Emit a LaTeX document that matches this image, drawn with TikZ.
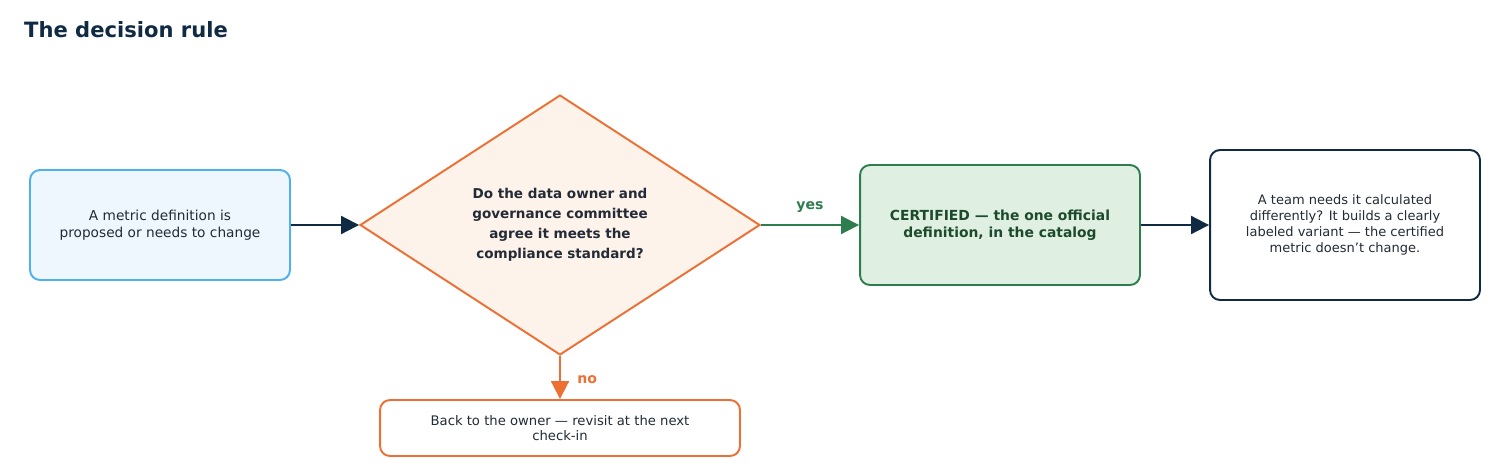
\documentclass[tikz,border=0pt]{standalone}
\usepackage{fontspec}
\setmainfont{DejaVu Sans}
\usetikzlibrary{shapes.geometric,arrows.meta}
\definecolor{navy}{HTML}{102A43}
\definecolor{bluestroke}{HTML}{4DB0F0}
\definecolor{bluefill}{HTML}{EEF6FE}
\definecolor{orng}{HTML}{EC6F33}
\definecolor{orngfill}{HTML}{FEF3EA}
\definecolor{grn}{HTML}{2E7D4F}
\definecolor{grnfill}{HTML}{DFF0E3}
\definecolor{grntext}{HTML}{1E4A2C}
\definecolor{txt}{HTML}{222B36}
\begin{document}
\begin{tikzpicture}[x=0.02cm,y=-0.02cm,
  box/.style={rounded corners=0.2cm,line width=1.1pt,align=center,text=txt,font=\fontsize{7.8}{9.6}\selectfont,inner sep=0pt},
  arr/.style={line width=1.1pt,-{Triangle[length=0.36cm,width=0.36cm]}},
  lab/.style={font=\bfseries\fontsize{8}{9}\selectfont}]
\useasboundingbox (0,0) rectangle (1500,470);
\node[anchor=west,text=navy,font=\bfseries\fontsize{12}{14}\selectfont] (title) at (18,30) {The decision rule};
\node[box,draw=bluestroke,fill=bluefill,minimum width=5.2cm,minimum height=2.2cm] (start) at (160,225) {A metric definition is\\proposed or needs to change};
\node[diamond,draw=orng,fill=orngfill,line width=1.1pt,minimum width=8cm,minimum height=5.2cm,inner sep=0pt,align=center,text=txt,font=\bfseries\fontsize{7.7}{11.3}\selectfont] (dec) at (560,225) {Do the data owner and\\governance committee\\agree it meets the\\compliance standard?};
\node[box,draw=grn,fill=grnfill,text=grntext,font=\bfseries\fontsize{7.9}{9.6}\selectfont,minimum width=5.6cm,minimum height=2.4cm] (cert) at (1000,225) {CERTIFIED — the one official\\definition, in the catalog};
\node[box,draw=navy,fill=white,minimum width=5.4cm,minimum height=3cm,font=\fontsize{7.4}{9}\selectfont] (var) at (1345,225) {A team needs it calculated\\differently? It builds a clearly\\labeled variant — the certified\\metric doesn't change.};
\node[box,draw=orng,fill=white,minimum width=7.2cm,minimum height=1.12cm,font=\fontsize{7.5}{9}\selectfont] (back) at (560,428) {Back to the owner — revisit at the next\\check-in};
\draw[arr,navy] (start) -- (dec.west);
\draw[arr,grn] (dec.east) -- node[lab,above=3pt,text=grn]{yes} (cert);
\draw[arr,navy] (cert) -- (var);
\draw[arr,orng] (dec.south) -- node[lab,right=6pt,text=orng,pos=0.55]{no} (back);
\end{tikzpicture}
\end{document}
